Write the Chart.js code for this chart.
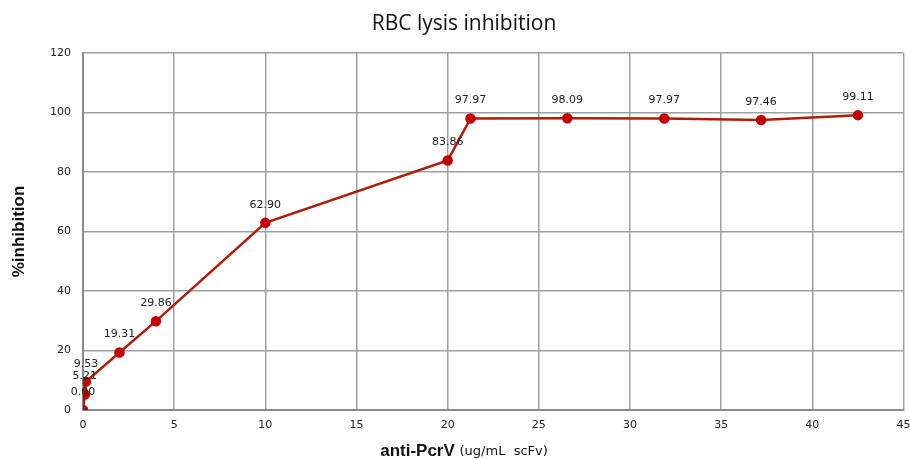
<!DOCTYPE html>
<html lang="en">
<head>
<meta charset="UTF-8">
<title>RBC lysis inhibition</title>
<script src="https://cdn.jsdelivr.net/npm/chart.js"></script>
<style>
  html, body { margin: 0; padding: 0; background: #fff; }
  #wrap { width: 910px; height: 460px; }
</style>
</head>
<body>
<div id="wrap"><canvas id="grafico" width="910" height="460"></canvas></div>
<script>
// dados
var concentracoes = [0, 0.1, 0.16, 2, 4, 10, 20, 21.25, 26.56, 31.88, 37.19, 42.5];
var inibicao = [0.00, 5.21, 9.53, 19.31, 29.86, 62.90, 83.86, 97.97, 98.09, 97.97, 97.46, 99.11];
var tituloGrafico = 'RBC lysis inhibition';
var tituloX = 'anti-PcrV';
var tituloXUnidade = '(ug/mL  scFv)';
var tituloY = '%inhibition';

var pontos = concentracoes.map(function (x, i) { return { x: x, y: inibicao[i] }; });

// textos desenhados a mao (titulo, eixos e rotulos dos pontos)
var textos = {
  id: 'textos',
  afterDatasetsDraw: function (chart) {
    var ctx = chart.ctx;
    var meta = chart.getDatasetMeta(0);
    ctx.save();
    ctx.fillStyle = '#222';
    ctx.font = '11px "DejaVu Sans"';
    ctx.textAlign = 'center';
    ctx.textBaseline = 'middle';
    meta.data.forEach(function (p, i) {
      ctx.fillText(inibicao[i].toFixed(2), p.x, p.y - 18);
    });
    ctx.restore();
  },
  afterDraw: function (chart) {
    var ctx = chart.ctx;
    var area = chart.chartArea;
    ctx.save();
    ctx.fillStyle = '#111';
    ctx.textBaseline = 'middle';
    ctx.textAlign = 'center';
    ctx.font = '21px "Open Sans"';
    ctx.fillText(tituloGrafico, 464, 24);

    // titulo do eixo x em duas fontes
    ctx.font = 'bold 17px "Liberation Sans"';
    var w1 = ctx.measureText(tituloX + ' ').width;
    ctx.font = '13px "DejaVu Sans"';
    var w2 = ctx.measureText(tituloXUnidade).width;
    var x0 = 464 - (w1 + w2) / 2;
    ctx.textAlign = 'left';
    ctx.font = 'bold 17px "Liberation Sans"';
    ctx.fillText(tituloX + ' ', x0, 451);
    ctx.font = '13px "DejaVu Sans"';
    ctx.fillText(tituloXUnidade, x0 + w1, 452);

    // titulo do eixo y
    ctx.translate(19, (area.top + area.bottom) / 2);
    ctx.rotate(-Math.PI / 2);
    ctx.textAlign = 'center';
    ctx.font = 'bold 17px "Liberation Sans"';
    ctx.fillText(tituloY, 0, 0);
    ctx.restore();
  }
};

new Chart(document.getElementById('grafico'), {
  type: 'scatter',
  data: {
    datasets: [{
      data: pontos,
      showLine: true,
      borderColor: '#ad1e0a',
      borderWidth: 2.5,
      backgroundColor: '#c00000',
      pointBackgroundColor: '#c00000',
      pointBorderColor: '#c00000',
      pointRadius: 4,
      tension: 0
    }]
  },
  options: {
    responsive: false,
    animation: false,
    layout: { padding: { top: 53, right: 0, left: 0, bottom: 0 } },
    plugins: {
      legend: { display: false },
      tooltip: { enabled: false },
      title: { display: false }
    },
    scales: {
      x: {
        type: 'linear',
        min: 0,
        max: 45,
        ticks: { stepSize: 5, color: '#222', font: { family: 'DejaVu Sans', size: 11 }, padding: 9 },
        grid: { color: '#a0a0a0', lineWidth: 1.5, drawTicks: false },
        border: { color: '#8a8a8a', width: 2 },
        afterFit: function (s) { s.height = 50; s.paddingRight = 6; s.paddingLeft = 0; }
      },
      y: {
        min: 0,
        max: 120,
        ticks: { stepSize: 20, color: '#222', font: { family: 'DejaVu Sans', size: 11 }, padding: 12 },
        grid: { color: '#a0a0a0', lineWidth: 1.5, drawTicks: false },
        border: { color: '#8a8a8a', width: 2 },
        afterFit: function (s) { s.width = 83; s.paddingTop = 0; s.paddingBottom = 0; }
      }
    }
  },
  plugins: [textos]
});
</script>
</body>
</html>
